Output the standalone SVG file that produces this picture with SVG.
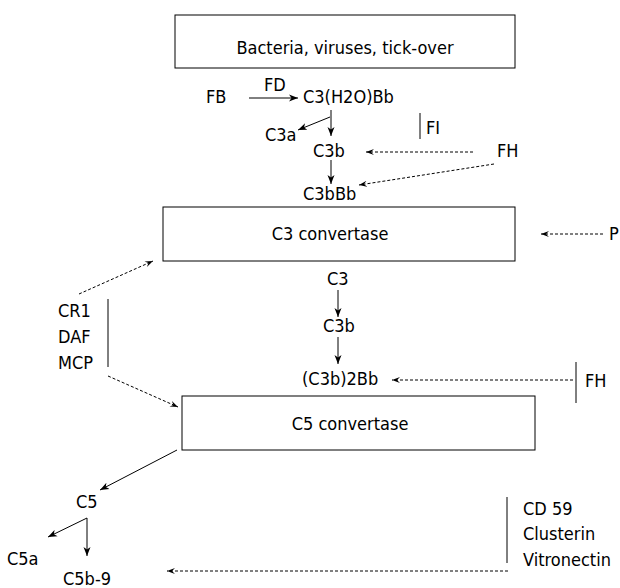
<svg xmlns="http://www.w3.org/2000/svg" width="620" height="588" viewBox="0 0 620 588">
<style>
text{font-family:"DejaVu Sans Condensed","DejaVu Sans",sans-serif;font-size:18px;fill:#000}
.box{fill:#fff;stroke:#000;stroke-width:1}
.s{stroke:#000;stroke-width:1;fill:none}
.d{stroke:#000;stroke-width:1;fill:none;stroke-dasharray:3 2}
.m{text-anchor:middle}
</style>
<defs>
<marker id="a" markerWidth="10" markerHeight="8" refX="9" refY="4" orient="auto" markerUnits="userSpaceOnUse">
<path d="M0,0.5 L9,4 L0,7.5 L2.5,4 Z" fill="#000"/>
</marker>
<marker id="b" markerWidth="9" markerHeight="7" refX="8" refY="3.5" orient="auto" markerUnits="userSpaceOnUse">
<path d="M0,0.5 L8,3.5 L0,6.5 L3,3.5 Z" fill="#000"/>
</marker>
</defs>
<rect width="620" height="588" fill="#fff"/>
<g id="n-bacteria"><rect class="box" x="175" y="15" width="340" height="53"/><text class="m" x="345" y="54">Bacteria, viruses, tick-over</text></g>
<g id="n-fb"><text x="206" y="103">FB</text></g>
<g id="n-fd"><text x="264" y="91">FD</text></g>
<g id="n-c3h2obb"><text x="303" y="103">C3(H2O)Bb</text></g>
<g id="n-c3a"><text x="265" y="141">C3a</text></g>
<g id="n-c3b1"><text x="313" y="157">C3b</text></g>
<g id="n-c3bbb"><text x="303" y="200">C3bBb</text></g>
<g id="n-fi"><line class="s" x1="420" y1="113" x2="420" y2="139"/><text x="426" y="134">FI</text></g>
<g id="n-fh1"><text x="497" y="157">FH</text></g>
<g id="n-c3conv"><rect class="box" x="163" y="207" width="352" height="54"/><text class="m" x="330" y="240">C3 convertase</text></g>
<g id="n-p"><text x="609" y="240">P</text></g>
<g id="n-c3"><text x="327" y="285">C3</text></g>
<g id="n-c3b2"><text x="323" y="332">C3b</text></g>
<g id="n-c3b2bb"><text x="302" y="385">(C3b)2Bb</text></g>
<g id="n-fh2"><line class="s" x1="576" y1="362" x2="576" y2="403"/><text x="585" y="387">FH</text></g>
<g id="n-regulators"><line class="s" x1="108" y1="299" x2="108" y2="367"/><text x="58" y="317">CR1</text><text x="58" y="343">DAF</text><text x="58" y="369">MCP</text></g>
<g id="n-c5conv"><rect class="box" x="182" y="396" width="353" height="54"/><text class="m" x="350" y="430">C5 convertase</text></g>
<g id="n-c5"><text x="76" y="508">C5</text></g>
<g id="n-c5a"><text x="7" y="565">C5a</text></g>
<g id="n-c5b9"><text x="63" y="585">C5b-9</text></g>
<g id="n-inhib"><line class="s" x1="507" y1="497" x2="507" y2="563"/><text x="523" y="515">CD 59</text><text x="523" y="540">Clusterin</text><text x="523" y="566">Vitronectin</text></g>
<g id="connectors">
<line class="s" x1="249" y1="98" x2="298" y2="98" marker-end="url(#a)"/>
<line class="s" x1="331" y1="110" x2="331" y2="136" marker-end="url(#a)"/>
<line class="s" x1="330" y1="117" x2="298" y2="130" marker-end="url(#a)"/>
<line class="s" x1="331" y1="160" x2="331" y2="184" marker-end="url(#a)"/>
<line class="d" x1="473" y1="152" x2="366" y2="152" marker-end="url(#b)"/>
<line class="d" x1="494" y1="164" x2="359" y2="185" marker-end="url(#b)"/>
<line class="d" x1="603" y1="234" x2="541" y2="234" marker-end="url(#b)"/>
<line class="s" x1="338" y1="290" x2="338" y2="317" marker-end="url(#a)"/>
<line class="s" x1="338" y1="337" x2="338" y2="364" marker-end="url(#a)"/>
<line class="d" x1="573" y1="380" x2="392" y2="380" marker-end="url(#b)"/>
<line class="d" x1="79" y1="294" x2="153" y2="261" marker-end="url(#b)"/>
<line class="d" x1="108" y1="376" x2="178" y2="407" marker-end="url(#b)"/>
<line class="s" x1="177" y1="450" x2="100" y2="490" marker-end="url(#a)"/>
<line class="s" x1="87" y1="518" x2="48" y2="537" marker-end="url(#a)"/>
<line class="s" x1="87" y1="518" x2="87" y2="556" marker-end="url(#a)"/>
<line class="d" x1="508" y1="571" x2="167" y2="571" marker-end="url(#b)"/>
</g>
</svg>
